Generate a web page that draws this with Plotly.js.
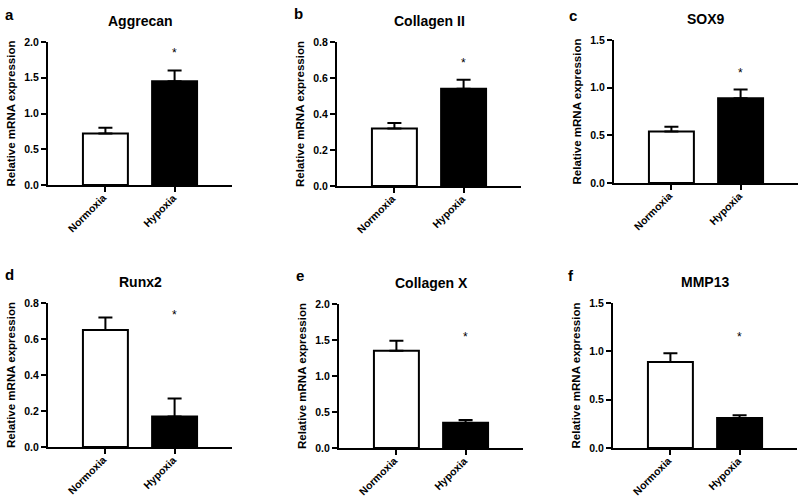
<!DOCTYPE html>
<html>
<head>
<meta charset="utf-8">
<script src="https://cdn.plot.ly/plotly-3.0.1.min.js"></script>
<style>html,body{margin:0;padding:0;background:#fff;}#chart{width:800px;height:499px;}</style>
</head>
<body>
<div id="chart"></div>
<script>
// ---- data ----
var categories = ['Normoxia', 'Hypoxia'];
var genes = ['Aggrecan', 'Collagen II', 'SOX9', 'Runx2', 'Collagen X', 'MMP13'];
var panelLetters = ['a', 'b', 'c', 'd', 'e', 'f'];
var aggrecan = [0.72, 1.45];   var aggrecanErr = [0.08, 0.15];
var collagen2 = [0.32, 0.54];  var collagen2Err = [0.03, 0.05];
var sox9 = [0.54, 0.89];       var sox9Err = [0.05, 0.09];
var runx2 = [0.65, 0.17];      var runx2Err = [0.07, 0.10];
var collagenX = [1.35, 0.35];  var collagenXErr = [0.14, 0.04];
var mmp13 = [0.89, 0.31];      var mmp13Err = [0.09, 0.03];
var starY = [1.89, 0.70, 1.19, 0.75, 1.58, 1.18];
var yMax = [2.0, 0.8, 1.5, 0.8, 2.0, 1.5];
var yTickStep = [0.5, 0.2, 0.5, 0.2, 0.5, 0.5];

var values = [aggrecan, collagen2, sox9, runx2, collagenX, mmp13];
var errors = [aggrecanErr, collagen2Err, sox9Err, runx2Err, collagenXErr, mmp13Err];

// ---- layout geometry (pixels) ----
var W = 800, H = 499;
var axLeft = [48, 337, 614, 48, 339, 613];
var axWidth = 184;
var axTop = [42, 42, 40, 303, 304, 303];
var axBottom = [185, 186, 183, 447, 448, 448];
var letterX = [3, 292, 567, 3, 294, 566];
var letterY = [14, 13, 15, 274, 275, 275];

var FONT = 'Arial, "Liberation Sans", sans-serif';
var traces = [];
var layout = {
  width: W, height: H,
  margin: {l: 0, r: 0, t: 0, b: 0},
  paper_bgcolor: '#fff', plot_bgcolor: 'rgba(0,0,0,0)',
  showlegend: false,
  font: {family: FONT, color: '#000'},
  annotations: []
};

for (var i = 0; i < 6; i++) {
  var n = i + 1;
  var xa = 'x' + (n === 1 ? '' : n), ya = 'y' + (n === 1 ? '' : n);
  var xk = 'xaxis' + (n === 1 ? '' : n), yk = 'yaxis' + (n === 1 ? '' : n);
  traces.push({
    type: 'bar', x: categories, y: values[i], xaxis: xa, yaxis: ya,
    width: 0.65,
    marker: {color: ['#ffffff', '#000000'], line: {color: '#000', width: 2}},
    error_y: {type: 'data', symmetric: false, array: errors[i], arrayminus: [0, 0],
              color: '#000', thickness: 2, width: 7},
    hoverinfo: 'skip'
  });
  layout[xk] = {
    domain: [axLeft[i] / W, (axLeft[i] + axWidth) / W],
    anchor: ya, type: 'category', range: [-0.83, 1.83],
    showline: true, linecolor: '#000', linewidth: 2,
    ticks: 'outside', ticklen: 5, tickwidth: 2, tickcolor: '#000',
    showgrid: false, zeroline: false, showticklabels: false,
    fixedrange: true
  };
  layout[yk] = {
    domain: [1 - axBottom[i] / H, 1 - axTop[i] / H],
    anchor: xa, range: [0, yMax[i]], dtick: yTickStep[i], tick0: 0,
    tickformat: '.1f',
    showline: true, linecolor: '#000', linewidth: 2,
    ticks: 'outside', ticklen: 5, tickwidth: 2, tickcolor: '#000',
    showgrid: false, zeroline: false,
    tickfont: {family: FONT, size: 10.5, color: '#000', weight: 'bold'},
    title: {text: 'Relative mRNA expression', font: {family: FONT, size: 11.5, color: '#000', weight: 'bold'}, standoff: 6},
    fixedrange: true
  };
  // rotated category labels
  for (var c = 0; c < categories.length; c++) {
    layout.annotations.push({
      xref: xa, yref: ya + ' domain', x: categories[c], y: 0, xshift: 6, yshift: -4,
      xanchor: 'right', yanchor: 'top', showarrow: false, textangle: -45,
      text: '<b>' + categories[c] + '</b>', font: {family: FONT, size: 10.5, color: '#000'}
    });
  }
  layout.annotations.push({
    xref: xa + ' domain', yref: ya + ' domain', x: 0.5, y: 1, yshift: 21,
    xanchor: 'center', yanchor: 'middle', showarrow: false,
    text: '<b>' + genes[i] + '</b>', font: {family: FONT, size: 14, color: '#000'}
  });
  layout.annotations.push({
    xref: 'paper', yref: 'paper', x: letterX[i] / W, y: 1 - letterY[i] / H,
    xanchor: 'left', yanchor: 'middle', showarrow: false,
    text: '<b>' + panelLetters[i] + '</b>', font: {family: FONT, size: 15, color: '#000'}
  });
  layout.annotations.push({
    xref: xa, yref: ya, x: categories[1], y: starY[i], yshift: -3,
    xanchor: 'center', yanchor: 'middle', showarrow: false,
    text: '*', font: {family: FONT, size: 12, color: '#000'}
  });
}

Plotly.newPlot('chart', traces, layout, {displayModeBar: false, staticPlot: true});
</script>
</body>
</html>
